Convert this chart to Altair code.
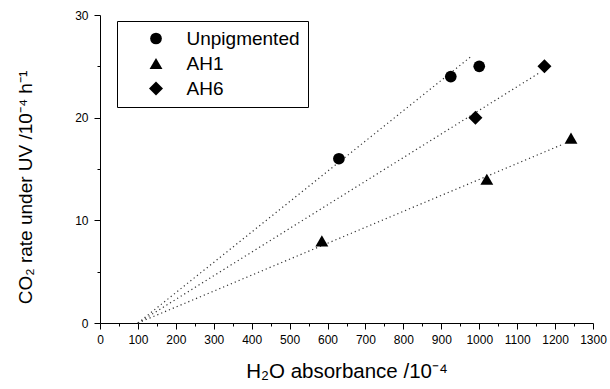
import altair as alt
import pandas as pd

FONT = "Liberation Sans"

series = ["Unpigmented", "AH1", "AH6"]
shapes = ["circle", "triangle-up", "diamond"]
marker_sizes = [137, 196, 210]

# measured points
unpig_x = [630, 925, 1000]
unpig_y = [16, 24, 25]
ah1_x = [585, 1020, 1242]
ah1_y = [8, 14, 18]
ah6_x = [990, 1172]
ah6_y = [20, 25]

# dotted fit lines (start / end) for each series
fit_x0 = [100, 100, 100]
fit_y0 = [0, 0, 0]
fit_x1 = [980, 1220, 1160]
fit_y1 = [26, 17.4, 24.4]

points = pd.DataFrame(
    {
        "x": unpig_x + ah1_x + ah6_x,
        "y": unpig_y + ah1_y + ah6_y,
        "series": ["Unpigmented"] * len(unpig_x)
        + ["AH1"] * len(ah1_x)
        + ["AH6"] * len(ah6_x),
    }
)
fits = pd.DataFrame(
    {"series": series, "x0": fit_x0, "y0": fit_y0, "x1": fit_x1, "y1": fit_y1}
)

major_test_x = "datum.value % 100 === 0"
major_test_y = "datum.value % 10 === 0"

x_axis = alt.Axis(
    values=list(range(0, 1301, 50)),
    format="d",
    labelExpr=f"{major_test_x} ? datum.label : ''",
    tickSize={"condition": {"test": major_test_x, "value": 6}, "value": 3},
    labelOverlap=False,
    labelFlush=False,
    labelPadding=5,
    title="H₂O absorbance /10⁻⁴",
    titleFontSize=20.5,
    titlePadding=16,
)
y_axis = alt.Axis(
    values=list(range(0, 31, 5)),
    format="d",
    labelExpr=f"{major_test_y} ? datum.label : ''",
    tickSize={"condition": {"test": major_test_y, "value": 6}, "value": 3},
    labelOverlap=False,
    labelFlush=False,
    labelPadding=6,
    title="CO₂ rate under UV /10⁻⁴ h⁻¹",
    titleFontSize=19,
    titleY=172,
    titlePadding=39,
)

x_scale = alt.Scale(domain=[0, 1300], nice=False, zero=False)
y_scale = alt.Scale(domain=[0, 30], nice=False, zero=False)

key = alt.Legend(
    title=None,
    orient="none",
    legendX=17,
    legendY=6,
    padding=8,
    strokeColor="black",
    fillColor="white",
    cornerRadius=0,
    labelFont=FONT,
    labelFontSize=19,
    labelColor="black",
    symbolFillColor="black",
    symbolStrokeColor="black",
    symbolStrokeWidth=0,
    symbolOffset=21.5,
    labelOffset=21,
    rowPadding=5,
)

lines = (
    alt.Chart(fits)
    .mark_rule(color="#333333", strokeWidth=1.2, strokeDash=[1.2, 3])
    .encode(
        x=alt.X("x0:Q", scale=x_scale, axis=x_axis),
        y=alt.Y("y0:Q", scale=y_scale, axis=y_axis),
        x2="x1:Q",
        y2="y1:Q",
    )
)

marks = (
    alt.Chart(points)
    .mark_point(filled=True, color="black", opacity=1)
    .encode(
        x=alt.X("x:Q", scale=x_scale, axis=x_axis),
        y=alt.Y("y:Q", scale=y_scale, axis=y_axis),
        shape=alt.Shape(
            "series:N",
            scale=alt.Scale(domain=series, range=shapes),
            sort=series,
            legend=key,
        ),
        size=alt.Size(
            "series:N",
            scale=alt.Scale(domain=series, range=marker_sizes),
            sort=series,
            legend=key,
        ),
    )
)

chart = (
    alt.layer(lines, marks)
    .properties(
        width=493,
        height=308,
        autosize=alt.AutoSizeParams(type="none"),
        padding={"left": 100, "top": 15, "right": 17, "bottom": 66},
    )
    .configure(background="white")
    .configure_view(stroke=None)
    .configure_axis(
        grid=False,
        domainColor="black",
        domainWidth=1,
        tickColor="black",
        tickWidth=1,
        labelFont=FONT,
        labelFontSize=12,
        labelColor="black",
        titleFont=FONT,
        titleFontSize=20,
        titleFontWeight="normal",
        titleColor="black",
    )
)

chart.save("out.html", embed_options={"renderer": "svg", "actions": False})
